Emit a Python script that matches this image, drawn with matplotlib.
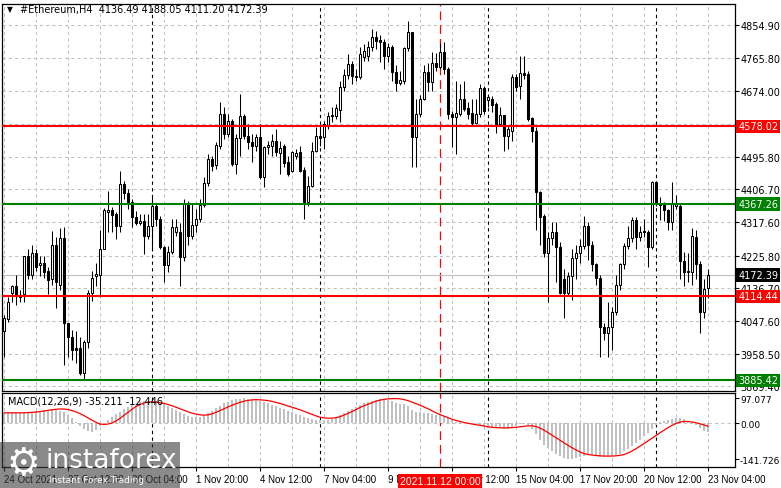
import numpy as np
import matplotlib
matplotlib.use("Agg")
import matplotlib.pyplot as plt
from matplotlib.patches import Rectangle

# H4 candles, 24 Oct 20:00 .. 23 Nov 04:00
opens = [4019, 4052, 4123, 4142, 4117, 4120, 4224, 4172, 4232, 4199,
         4207, 4183, 4161, 4256, 4147, 4273, 4041, 4005, 3975, 3975,
         3907, 3989, 4125, 4169, 4174, 4245, 4344, 4349, 4338, 4306,
         4420, 4396, 4371, 4330, 4314, 4319, 4278, 4306, 4360, 4325,
         4248, 4199, 4235, 4289, 4289, 4221, 4366, 4278, 4308, 4325,
         4363, 4423, 4489, 4472, 4524, 4612, 4557, 4593, 4475, 4546,
         4606, 4552, 4535, 4524, 4549, 4440, 4521, 4524, 4538, 4505,
         4524, 4481, 4456, 4497, 4508, 4459, 4371, 4415, 4511, 4552,
         4549, 4582, 4606, 4606, 4623, 4685, 4718, 4748, 4716, 4713,
         4767, 4770, 4795, 4822, 4814, 4808, 4770, 4795, 4726, 4696,
         4702, 4792, 4836, 4549, 4612, 4653, 4726, 4699, 4751, 4740,
         4781, 4735, 4612, 4604, 4612, 4653, 4628, 4614, 4587, 4612,
         4683, 4650, 4653, 4639, 4584, 4609, 4552, 4565, 4713, 4688,
         4724, 4721, 4601, 4565, 4399, 4333, 4232, 4273, 4289, 4248,
         4161, 4125, 4169, 4218, 4232, 4251, 4306, 4254, 4202, 4166,
         4030, 4016, 4032, 4071, 4147, 4204, 4251, 4273, 4322, 4276,
         4292, 4289, 4248, 4426, 4368, 4366, 4349, 4317, 4360, 4360,
         4210, 4180, 4180, 4276, 4204, 4071, 4136.49]
highs = [4065, 4114, 4147, 4172, 4133, 4226, 4243, 4254, 4243, 4224,
         4224, 4196, 4292, 4276, 4300, 4303, 4043, 4024, 4021, 4005,
         3997, 4133, 4183, 4207, 4297, 4355, 4401, 4358, 4344, 4456,
         4429, 4407, 4379, 4347, 4338, 4338, 4338, 4388, 4366, 4333,
         4251, 4251, 4325, 4325, 4314, 4379, 4374, 4368, 4352, 4379,
         4440, 4502, 4497, 4535, 4645, 4631, 4612, 4598, 4557, 4666,
         4612, 4584, 4557, 4557, 4584, 4524, 4538, 4557, 4571, 4538,
         4530, 4497, 4511, 4516, 4524, 4467, 4442, 4535, 4576, 4579,
         4593, 4617, 4631, 4639, 4702, 4735, 4776, 4757, 4735, 4795,
         4803, 4811, 4844, 4839, 4828, 4817, 4806, 4800, 4746, 4729,
         4795, 4866, 4836, 4653, 4664, 4746, 4751, 4781, 4778, 4806,
         4808, 4740, 4620, 4702, 4694, 4702, 4645, 4653, 4653, 4694,
         4688, 4666, 4661, 4645, 4631, 4609, 4582, 4721, 4721, 4770,
         4770, 4729, 4604, 4576, 4401, 4338, 4289, 4317, 4317, 4262,
         4188, 4180, 4243, 4256, 4270, 4333, 4317, 4265, 4207, 4172,
         4043, 4098, 4087, 4174, 4207, 4259, 4306, 4330, 4330, 4306,
         4327, 4297, 4429, 4429, 4385, 4371, 4352, 4426, 4390, 4368,
         4235, 4232, 4300, 4297, 4210, 4161, 4188.05]
lows = [3950, 4046, 4098, 4092, 4098, 4098, 4161, 4161, 4183, 4169,
        4166, 4120, 4147, 4084, 4133, 3928, 3950, 3942, 3934, 3901,
        3887, 3975, 4101, 4142, 4114, 4243, 4289, 4289, 4270, 4289,
        4379, 4352, 4303, 4308, 4308, 4229, 4270, 4243, 4306, 4243,
        4155, 4180, 4229, 4278, 4142, 4210, 4256, 4270, 4289, 4317,
        4358, 4415, 4456, 4461, 4516, 4543, 4549, 4470, 4448, 4497,
        4543, 4516, 4481, 4511, 4434, 4412, 4502, 4497, 4497, 4448,
        4467, 4442, 4453, 4489, 4453, 4325, 4360, 4412, 4508, 4524,
        4516, 4571, 4590, 4598, 4590, 4675, 4707, 4694, 4702, 4707,
        4757, 4757, 4784, 4789, 4754, 4735, 4754, 4702, 4675, 4691,
        4694, 4784, 4467, 4467, 4604, 4650, 4675, 4675, 4729, 4735,
        4721, 4598, 4521, 4502, 4606, 4620, 4598, 4582, 4584, 4604,
        4612, 4631, 4617, 4561, 4579, 4511, 4516, 4538, 4675, 4653,
        4707, 4593, 4535, 4297, 4256, 4221, 4098, 4256, 4153, 4120,
        4057, 4117, 4106, 4161, 4207, 4243, 4215, 4183, 4147, 3950,
        3997, 3948, 3969, 4065, 4133, 4188, 4243, 4262, 4243, 4267,
        4276, 4196, 4243, 4360, 4322, 4319, 4297, 4297, 4352, 4161,
        4144, 4155, 4147, 4161, 4016, 4057, 4111.20]
closes = [4057, 4098, 4142, 4117, 4114, 4224, 4172, 4232, 4196, 4207,
          4180, 4158, 4256, 4153, 4273, 4041, 4005, 3969, 3969, 3907,
          3989, 4125, 4166, 4177, 4245, 4349, 4349, 4336, 4306, 4420,
          4396, 4371, 4330, 4314, 4319, 4278, 4306, 4360, 4325, 4248,
          4199, 4235, 4303, 4303, 4221, 4366, 4278, 4308, 4325, 4363,
          4423, 4489, 4470, 4527, 4612, 4557, 4593, 4475, 4546, 4606,
          4552, 4535, 4524, 4549, 4440, 4521, 4527, 4538, 4508, 4519,
          4478, 4448, 4508, 4505, 4456, 4371, 4415, 4511, 4552, 4546,
          4584, 4606, 4609, 4628, 4685, 4718, 4748, 4716, 4713, 4776,
          4784, 4795, 4822, 4811, 4808, 4770, 4795, 4726, 4696, 4705,
          4792, 4836, 4549, 4612, 4653, 4726, 4699, 4751, 4740, 4781,
          4735, 4612, 4604, 4614, 4653, 4625, 4612, 4587, 4612, 4683,
          4620, 4658, 4636, 4584, 4609, 4552, 4571, 4713, 4685, 4724,
          4718, 4598, 4565, 4399, 4330, 4232, 4273, 4289, 4248, 4125,
          4125, 4169, 4218, 4232, 4251, 4306, 4254, 4202, 4166, 4030,
          4016, 4032, 4071, 4147, 4204, 4251, 4273, 4322, 4276, 4289,
          4289, 4248, 4426, 4366, 4363, 4349, 4317, 4368, 4368, 4210,
          4180, 4185, 4278, 4202, 4071, 4136, 4172.39]

# MACD(12,26,9): main (histogram) and signal line
macd_main = [40, 41, 42, 42, 41, 40, 41, 43, 46, 49,
             51, 52, 52, 51, 48, 44, 32, 18, 5, -12,
             -25, -33, -34, -28, -12, -2, 10, 22, 34, 45,
             55, 63, 70, 76, 81, 85, 87, 87, 85, 80,
             74, 66, 58, 50, 42, 35, 29, 24, 22, 23,
             30, 38, 48, 58, 68, 77, 84, 89, 93, 95,
             97, 96, 95, 92, 88, 83, 78, 72, 66, 60,
             54, 48, 42, 36, 30, 25, 20, 16, 13, 11,
             10, 12, 16, 22, 30, 38, 46, 55, 63, 70,
             77, 83, 88, 92, 94, 93, 90, 86, 80, 76,
             75, 68, 52, 45, 42, 40, 38, 35, 33, 30,
             26, 18, 10, 5, 2, 0, -2, -5, -8, -12,
             -16, -18, -17, -15, -17, -22, -24, -18, -10, -5,
             -3, -8, -22, -45, -65, -85, -100, -112, -122, -130,
             -136, -141.7, -140, -138, -132, -128, -126, -127, -128, -132,
             -134, -133, -130, -126, -120, -112, -102, -90, -78, -65,
             -52, -38, -24, -8, 2, 8, 12, 16, 20, 20,
             14, 6, -2, -8, -18, -30, -35.2]
macd_signal = [40, 40, 40, 40, 40, 40, 41, 42, 43, 45,
               47, 50, 52, 54, 55, 55, 53, 49, 44, 37,
               29, 20, 11, 3, -4, -6, -4, 0, 8, 18,
               30, 42, 54, 65, 73, 79, 82, 83, 82, 80,
               77, 73, 68, 62, 56, 50, 44, 39, 35, 32,
               31, 32, 36, 42, 49, 56, 63, 70, 76, 81,
               86, 89, 91, 92, 91, 90, 88, 85, 81, 77,
               72, 67, 62, 57, 52, 46, 40, 34, 28, 23,
               20, 19, 19, 21, 25, 31, 38, 45, 53, 61,
               68, 74, 80, 86, 90, 93, 95, 96, 96, 95,
               92, 88, 82, 76, 70, 63, 56, 48, 40, 33,
               27, 21, 15, 10, 6, 2, -1, -4, -7, -9,
               -12, -15, -17, -18, -19, -19, -19, -18, -17, -15,
               -13, -11, -11, -14, -20, -28, -38, -48, -58, -68,
               -78, -88, -97, -106, -114, -120, -124, -126, -128, -129,
               -130, -130, -130, -129, -127, -124, -118, -110, -101, -91,
               -81, -70, -60, -49, -38, -28, -18, -9, -2, 4,
               6, 6, 4, 1, -3, -8, -12.446]

price_ticks = [4854.90, 4765.80, 4674.00, 4584.90, 4495.80, 4406.70, 4317.60,
               4225.80, 4136.70, 4047.60, 3958.50, 3869.40]
red_levels = [4578.02, 4114.44]
green_levels = [4367.26, 3885.42]
date_labels = ["24 Oct 2021", "27 Oct 12:00", "30 Oct 04:00", "1 Nov 20:00",
               "4 Nov 12:00", "7 Nov 04:00", "9 Nov 20:00", "12 Nov 12:00",
               "15 Nov 04:00", "17 Nov 20:00", "20 Nov 12:00", "23 Nov 04:00"]
week_starts = [37, 79, 121, 163]
marker_bar = 109

o = np.array(opens, float)
h = np.array(highs, float)
l = np.array(lows, float)
c = np.array(closes, float)
x = np.arange(len(c))

W, H = 781, 489
fig = plt.figure(figsize=(W / 100, H / 100), dpi=100)
ax = fig.add_axes([2 / W, 1 - 391.5 / H, 732.5 / W, 386.5 / H])
ax2 = fig.add_axes([2 / W, 1 - 468 / H, 732.5 / W, 74 / H])

grid_kw = dict(color="#c0c0c0", lw=0.75, ls=(0, (3, 3)), zorder=0)
for a in (ax, ax2):
    for gx in range(0, 177, 8):
        a.axvline(gx, **grid_kw)
    for sx in week_starts:
        a.axvline(sx, color="black", lw=0.8, ls=(0, (3, 3)), zorder=1)
    a.axvline(marker_bar, color="red", lw=0.9, ls=(0, (7, 4)), zorder=1)
    a.set_xlim(-0.5, 182.6)
    for s in a.spines.values():
        s.set_linewidth(0.9)

for gy in price_ticks:
    ax.axhline(gy, **grid_kw)

# candles
ax.vlines(x, l, h, color="black", lw=0.75, zorder=3)
up = c >= o
ax.bar(x[up], (c - o)[up], bottom=o[up], width=0.55, facecolor="white",
       edgecolor="black", lw=0.75, zorder=4)
ax.bar(x[~up], (c - o)[~up], bottom=o[~up], width=0.55, facecolor="black",
       edgecolor="black", lw=0.75, zorder=4)

ax.axhline(closes[-1], color="#c0c0c0", lw=0.8, zorder=1)
for lv in red_levels:
    ax.axhline(lv, color="#ff0000", lw=1.5, zorder=5)
for lv in green_levels:
    ax.axhline(lv, color="#008000", lw=1.5, zorder=5)

ax.set_ylim(3858, 4912)
ax.yaxis.tick_right()
ax.set_yticks(price_ticks)
ax.set_yticklabels(["" if t == 4584.90 else f"{t:.2f}" for t in price_ticks])
ax.tick_params(axis="y", labelsize=7, length=3, pad=1.5, width=0.8)
ax.set_xticks([])

def tag(a, val, text, bg):
    a.text(1.005, val, text, transform=a.get_yaxis_transform(), ha="left",
           va="center", fontsize=7, color="white", clip_on=False, zorder=20,
           bbox=dict(boxstyle="square,pad=0.18", fc=bg, ec="none"))

tag(ax, 4578.02, "4578.02", "#ff0000")
tag(ax, 4114.44, "4114.44", "#ff0000")
tag(ax, 4367.26, "4367.26", "#008000")
tag(ax, 3885.42, "3885.42", "#008000")
tag(ax, closes[-1], f"{closes[-1]:.2f}", "black")

ax.text(0.007, 1 - 5 / 386.5, "\u25bc", transform=ax.transAxes, fontsize=5.5,
        va="center", ha="left")
ax.text(0.024, 1 - 5 / 386.5, "#Ethereum,H4  %.2f %.2f %.2f %.2f"
        % (opens[-1], highs[-1], lows[-1], closes[-1]),
        transform=ax.transAxes, fontsize=7, va="center", ha="left")

# MACD panel
ax2.axhline(0, **grid_kw)
ax2.bar(x, macd_main, width=0.5, color="#c0c0c0", zorder=2)
ax2.plot(x, macd_signal, color="red", lw=0.9, zorder=3)
ax2.set_ylim(-173, 118)
ax2.yaxis.tick_right()
ax2.set_yticks([97.077, 0, -141.726])
ax2.set_yticklabels(["97.077", "0.00", "-141.726"])
ax2.tick_params(axis="y", labelsize=6.5, length=3, pad=1, width=0.8)
ax2.set_xticks(range(0, 177, 16))
ax2.set_xticklabels(date_labels, ha="left", family="Liberation Sans")
ax2.tick_params(axis="x", labelsize=7, length=3, pad=2, width=0.8)
ax2.text(0.008, 0.905, "MACD(12,26,9) %.3f %.3f" % (-35.211, -12.446),
         transform=ax2.transAxes, fontsize=7, va="center", ha="left")
ax2.text(marker_bar, -0.19, "2021.11.12 00:00", transform=ax2.get_xaxis_transform(),
         ha="center", va="center", fontsize=7.5, color="white", clip_on=False,
         family="Liberation Sans", zorder=20,
         bbox=dict(boxstyle="square,pad=0.2", fc="#ff0000", ec="none"))

# watermark
fig.patches.append(Rectangle((0, 0), 180 / W, 46 / H, transform=fig.transFigure,
                             fc="#3c3c3c", ec="none", alpha=0.6, zorder=30))
fig.text(23 / W, 1 - 465 / H, "\u2699", fontsize=27, color="white",
         ha="center", va="center", zorder=31)
fig.text(45 / W, 1 - 461 / H, "instaforex", fontsize=19, color="white",
         ha="left", va="center", zorder=31)
fig.text(49 / W, 1 - 481 / H, "Instant Forex Trading", fontsize=6.5,
         color="white", ha="left", va="center", zorder=31)

fig.savefig("out.png", dpi=100)
